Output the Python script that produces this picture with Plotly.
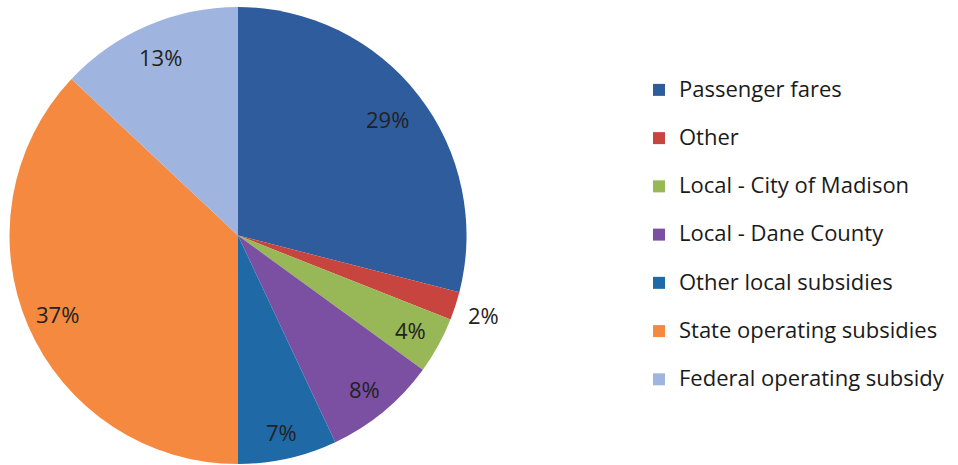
import math
import plotly.graph_objects as go

# ---- data ----
categories = ["Passenger fares", "Other", "Local - City of Madison", "Local - Dane County",
              "Other local subsidies", "State operating subsidies", "Federal operating subsidy"]
shares = [29, 2, 4, 8, 7, 37, 13]
colors = ["#2E5C9C", "#C8453F", "#98B756", "#7B50A2", "#1F6AA6", "#F4893F", "#9FB5E0"]

# label placement (fraction of radius along slice bisector)
label_radius = [0.83, 1.13, 0.86, 0.87, 0.88, 0.86, 0.85]

W, H = 958, 465
dom_x = [0.0099, 0.487]
dom_y = [0.00215, 0.98495]

legend_fs = 17.4
legend_labels = ["<span style='font-size:22px'>%s</span><br> " % c for c in categories]

fig = go.Figure()
fig.add_trace(go.Pie(
    labels=legend_labels,
    values=shares,
    sort=False,
    direction="clockwise",
    rotation=0,
    textinfo="none",
    hoverinfo="skip",
    marker=dict(colors=colors, line=dict(width=0)),
    domain=dict(x=dom_x, y=dom_y),
))

# data labels computed from the values along each slice bisector
cx = (dom_x[0] + dom_x[1]) / 2 * W
cy = (1 - (dom_y[0] + dom_y[1]) / 2) * H
R = min((dom_x[1] - dom_x[0]) * W, (dom_y[1] - dom_y[0]) * H) / 2
total = sum(shares)
cum = 0
annotations = []
for v, f in zip(shares, label_radius):
    mid = (cum + v / 2) / total * 2 * math.pi
    cum += v
    px = cx + f * R * math.sin(mid)
    py = cy - f * R * math.cos(mid)
    annotations.append(dict(
        x=px / W, y=1 - py / H, xref="paper", yref="paper",
        text="%d%%" % round(v / total * 100), showarrow=False,
        font=dict(family="Open Sans", size=22, color="#222222"),
        xanchor="center", yanchor="middle",
    ))

fig.update_layout(
    width=W, height=H,
    margin=dict(l=0, r=0, t=0, b=0),
    paper_bgcolor="white",
    plot_bgcolor="white",
    annotations=annotations,
    showlegend=True,
    legend=dict(
        x=0.667, y=0.845, xanchor="left", yanchor="top",
        font=dict(family="Open Sans", size=legend_fs, color="#1a1a1a"),
        valign="top",
        bgcolor="rgba(0,0,0,0)",
    ),
)

fig.write_html("out.html")
